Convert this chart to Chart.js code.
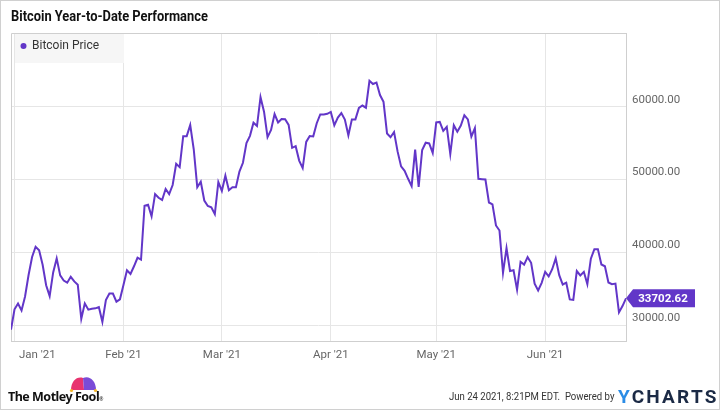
<!DOCTYPE html>
<html>
<head>
<meta charset="utf-8">
<script src="https://cdn.jsdelivr.net/npm/chart.js@4.4.1/dist/chart.umd.min.js"></script>
<style>
  body { margin: 0; background: #fff; }
  #wrap { position: relative; width: 720px; height: 410px; overflow: hidden; background: #fff; }
  #frame { position: absolute; left: 0; top: 0; width: 718px; height: 408px; border: 1px solid #d0d0d0; pointer-events: none; }
  #chart { position: absolute; left: 0; top: 0; }
  #title { position: absolute; left: 11px; top: 8px; font: bold 14px Roboto, sans-serif; color: #111; transform: scaleX(0.92); transform-origin: 0 0; white-space: pre; }
  #fool { position: absolute; left: 8px; top: 388px; font: bold 12.5px 'Noto Sans', Roboto, sans-serif; color: #111; letter-spacing: -0.5px; }
  #hat { position: absolute; left: 69px; top: 375px; }
  #stamp { position: absolute; left: 449px; top: 390px; font: 11px Roboto, sans-serif; color: #333; white-space: pre; transform: scaleX(0.87); transform-origin: 0 0; }
  #ycharts { position: absolute; left: 618px; top: 385px; font: bold 19px Roboto, sans-serif; letter-spacing: 2.2px; color: #1b2a45; }
  #ycharts span { color: #2b8ce6; }
</style>
</head>
<body>
<div id="wrap">
  <canvas id="chart" width="720" height="410"></canvas>
  <div id="title">Bitcoin Year-to-Date Performance</div>
  <svg id="hat" width="30" height="18" viewBox="0 0 30 18">
    <path d="M2 15 C2 6 8 1 14 3 L15 15 Z" fill="#e8336f"/>
    <path d="M14 3 C20 0 27 5 27 15 L15 15 Z" fill="#7a4bd6"/>
    <circle cx="2.5" cy="15.5" r="1.6" fill="#f5b72a"/>
    <circle cx="26.5" cy="15.5" r="1.6" fill="#f5b72a"/>
  </svg>
  <div id="fool">The Motley Fool<span style="font-size:5px;font-weight:normal">®</span></div>
  <div id="stamp">Jun 24 2021, 8:21PM EDT.  Powered by</div>
  <div id="ycharts"><span>Y</span>CHARTS</div>
  <div id="frame"></div>
</div>
<script>
// index 0 = Dec 31 2020, one point per day up to Jun 24 2021
const prices = [
  29400, 32200, 33000, 32050, 33950, 36900, 39380, 40780, 40300, 38300,
  35500, 34000, 37250, 39180, 36850, 36150, 35850, 36650, 36020, 35580,
  30900, 33010, 32150, 32280, 32330, 32500, 30480, 33470, 34350, 34350,
  33250, 33570, 35520, 37550, 37050, 38100, 39270, 39000, 46400, 46550,
  44950, 48000, 47500, 47200, 48700, 48000, 49250, 52150, 51700, 55950,
  55950, 57480, 54150, 48950, 49700, 47120, 46370, 46200, 45250, 49660,
  48450, 50530, 48530, 48950, 48930, 51100, 52300, 55000, 55990, 57800,
  57340, 61300, 59300, 55820, 56800, 58970, 57830, 58300, 58280, 57500,
  54350, 54570, 52600, 51570, 55160, 55970, 55920, 57720, 58930, 58930,
  59020, 59280, 57430, 58500, 59110, 58220, 56070, 58250, 58250, 59820,
  60150, 59850, 63550, 63100, 63300, 61590, 60650, 56320, 55800, 56520,
  53860, 51800, 51200, 50100, 49100, 54100, 49000, 54050, 55050, 54950,
  53650, 57850, 57900, 56680, 57230, 53500, 57450, 56550, 57400, 58830,
  58250, 55900, 57050, 50100, 50050, 50000, 46850, 46600, 43700, 43000,
  37200, 40600, 37450, 37550, 34900, 38710, 38330, 39350, 38580, 35720,
  34780, 35830, 37340, 36720, 37700, 39180, 36890, 35600, 35850, 33560,
  33500, 37450, 36850, 37340, 35650, 39140, 40450, 40450, 38350, 38100,
  35880, 35640, 35720, 31770, 32640, 33702.62
];
const monthTicks = [1, 32, 60, 91, 121, 152];
const monthLabels = ["Jan '21", "Feb '21", "Mar '21", "Apr '21", "May '21", "Jun '21"];
const priceTicks = [30000, 40000, 50000, 60000];
const seriesName = 'Bitcoin Price';

const LINE = '#6236c8';
const GRID = '#e6e6e6';
const EDGE = '#cfcfcf';
const FONT = "Roboto, sans-serif";

const decor = {
  id: 'decor',
  beforeDatasetsDraw(chart) {
    const { ctx, chartArea: a } = chart;
    ctx.save();
    // left and top edges of the plot
    ctx.strokeStyle = EDGE;
    ctx.lineWidth = 1;
    ctx.beginPath();
    ctx.moveTo(a.left + 0.5, a.bottom);
    ctx.lineTo(a.left + 0.5, a.top + 0.5);
    ctx.lineTo(a.right, a.top + 0.5);
    ctx.stroke();
    // legend box
    ctx.fillStyle = '#f6f6f6';
    ctx.fillRect(a.left + 4, a.top + 1, 109, 29);
    ctx.fillStyle = LINE;
    ctx.beginPath();
    ctx.arc(a.left + 12.5, a.top + 13, 3, 0, Math.PI * 2);
    ctx.fill();
    ctx.fillStyle = '#333';
    ctx.font = '12px ' + FONT;
    ctx.textBaseline = 'middle';
    ctx.textAlign = 'left';
    ctx.fillText(seriesName, a.left + 21, a.top + 13);
    // month labels
    const x = chart.scales.x;
    ctx.fillStyle = '#666';
    ctx.font = '11.5px ' + FONT;
    ctx.textAlign = 'center';
    monthTicks.forEach((d, i) => {
      const w = ctx.measureText(monthLabels[i]).width;
      const px = Math.max(x.getPixelForValue(d), a.left + w / 2 + 8);
      ctx.fillText(monthLabels[i], px, a.bottom + 14);
    });
    ctx.restore();
  },
  afterDatasetsDraw(chart) {
    const { ctx, chartArea: a } = chart;
    const last = prices[prices.length - 1];
    const py = chart.scales.y.getPixelForValue(last);
    ctx.save();
    ctx.fillStyle = LINE;
    ctx.beginPath();
    ctx.moveTo(a.right, py);
    ctx.lineTo(a.right + 7, py - 9);
    ctx.lineTo(a.right + 69, py - 9);
    ctx.lineTo(a.right + 69, py + 9);
    ctx.lineTo(a.right + 7, py + 9);
    ctx.closePath();
    ctx.fill();
    ctx.fillStyle = '#fff';
    ctx.font = 'bold 11.5px ' + FONT;
    ctx.textAlign = 'center';
    ctx.textBaseline = 'middle';
    ctx.fillText(last.toFixed(2), a.right + 37, py + 0.5);
    ctx.restore();
  }
};

new Chart(document.getElementById('chart'), {
  type: 'line',
  data: {
    datasets: [{
      label: seriesName,
      data: prices.map((p, i) => ({ x: i, y: p })),
      borderColor: LINE,
      borderWidth: 2,
      pointRadius: 0,
      tension: 0,
      fill: false
    }]
  },
  options: {
    responsive: false,
    animation: false,
    layout: { padding: { left: 11, top: 33, right: 0, bottom: 0 } },
    plugins: { legend: { display: false }, tooltip: { enabled: false } },
    scales: {
      x: {
        type: 'linear',
        min: 0,
        max: prices.length - 1,
        afterBuildTicks: s => { s.ticks = monthTicks.map(v => ({ value: v })); },
        afterFit: s => { s.height = 69; },
        ticks: { display: false },
        grid: { color: GRID, drawTicks: false },
        border: { display: true, color: EDGE }
      },
      y: {
        type: 'linear',
        position: 'right',
        min: 27850,
        max: 70100,
        afterBuildTicks: s => { s.ticks = priceTicks.map(v => ({ value: v })); },
        afterFit: s => { s.width = 94; },
        ticks: {
          color: '#666',
          font: { family: FONT, size: 11.5 },
          padding: 6,
          labelOffset: -7,
          callback: v => v.toFixed(2)
        },
        grid: { color: GRID, drawTicks: false },
        border: { display: true, color: EDGE }
      }
    }
  },
  plugins: [decor]
});
</script>
</body>
</html>
